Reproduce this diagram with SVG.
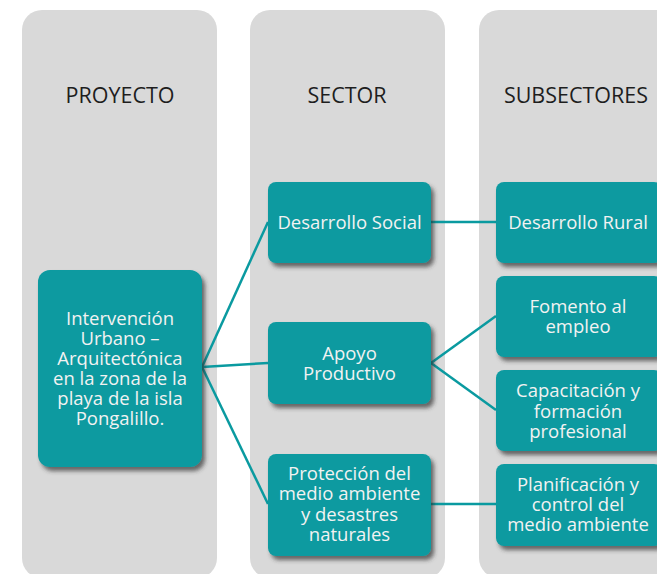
<svg xmlns="http://www.w3.org/2000/svg" width="657" height="574" viewBox="0 0 657 574">
<defs>
<filter id="sh" x="-10%" y="-10%" width="130%" height="130%">
<feDropShadow dx="3" dy="4" stdDeviation="2" flood-color="#333333" flood-opacity="0.7"/>
</filter>
</defs>
<style>
.col{fill:#d9d9d9}
.head{font-family:"Open Sans","Liberation Sans",sans-serif;font-size:21.5px;fill:#1e1e1e;text-anchor:middle}
.box{fill:#0a9aa0;filter:url(#sh)}
.t{font-family:"Open Sans","Liberation Sans",sans-serif;font-size:18.5px;fill:#f2f2f2;text-anchor:middle}
.con line{stroke:#0a9aa0;stroke-width:2.5;fill:none}
</style>
<rect width="657" height="574" fill="#ffffff"/>
<g id="col-proyecto"><rect class="col" x="22" y="10" width="195" height="568" rx="20"/><text class="head" x="120" y="103">PROYECTO</text></g>
<g id="col-sector"><rect class="col" x="250" y="10" width="195" height="568" rx="20"/><text class="head" x="347" y="103">SECTOR</text></g>
<g id="col-subsectores"><rect class="col" x="479" y="10" width="200" height="568" rx="20"/><text class="head" x="576" y="103">SUBSECTORES</text></g>
<g class="con" id="connectors">
<line x1="202" y1="367" x2="268" y2="222"/>
<line x1="202" y1="367" x2="268" y2="363"/>
<line x1="202" y1="367" x2="268" y2="504"/>
<line x1="431" y1="222" x2="496" y2="222"/>
<line x1="431" y1="363" x2="496" y2="316"/>
<line x1="431" y1="363" x2="496" y2="410"/>
<line x1="431" y1="504" x2="496" y2="504"/>
</g>
<g id="n-proyecto"><rect class="box" x="38" y="270" width="164" height="197" rx="12"/>
<text class="t"><tspan x="120" y="324.5">Intervención</tspan><tspan x="120" y="344.5">Urbano –</tspan><tspan x="120" y="364.5">Arquitectónica</tspan><tspan x="120" y="384.5">en la zona de la</tspan><tspan x="120" y="404.5">playa de la isla</tspan><tspan x="120" y="424.5">Pongalillo.</tspan></text></g>
<g id="n-social"><rect class="box" x="268" y="182" width="163" height="81" rx="8"/>
<text class="t" x="349.5" y="229">Desarrollo Social</text></g>
<g id="n-apoyo"><rect class="box" x="268" y="322" width="163" height="82" rx="8"/>
<text class="t"><tspan x="349.5" y="360">Apoyo</tspan><tspan x="349.5" y="380">Productivo</tspan></text></g>
<g id="n-proteccion"><rect class="box" x="268" y="454" width="163" height="102" rx="8"/>
<text class="t"><tspan x="349.5" y="480">Protección del</tspan><tspan x="349.5" y="500">medio ambiente</tspan><tspan x="349.5" y="520.5">y desastres</tspan><tspan x="349.5" y="541">naturales</tspan></text></g>
<g id="n-rural"><rect class="box" x="496" y="182" width="166" height="81" rx="8"/>
<text class="t" x="578" y="229">Desarrollo Rural</text></g>
<g id="n-empleo"><rect class="box" x="496" y="276" width="166" height="81" rx="8"/>
<text class="t"><tspan x="578" y="313">Fomento al</tspan><tspan x="578" y="333">empleo</tspan></text></g>
<g id="n-capacitacion"><rect class="box" x="496" y="370" width="166" height="81" rx="8"/>
<text class="t"><tspan x="578" y="397">Capacitación y</tspan><tspan x="578" y="417.5">formación</tspan><tspan x="578" y="438">profesional</tspan></text></g>
<g id="n-planificacion"><rect class="box" x="496" y="464" width="166" height="82" rx="8"/>
<text class="t"><tspan x="578" y="491">Planificación y</tspan><tspan x="578" y="511">control del</tspan><tspan x="578" y="531">medio ambiente</tspan></text></g>
</svg>
